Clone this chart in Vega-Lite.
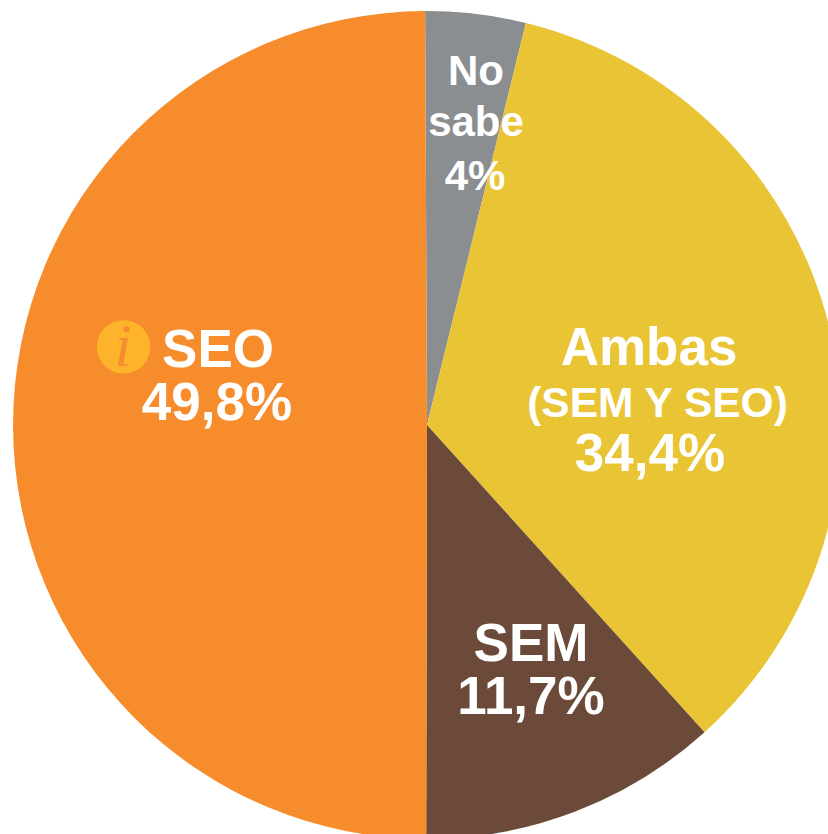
{
  "$schema": "https://vega.github.io/schema/vega-lite/v6.json",
  "width": 854,
  "height": 850,
  "padding": 0,
  "autosize": {"type": "none"},
  "background": "white",
  "view": {"stroke": null},
  "config": {"text": {"font": "Liberation Sans", "fontWeight": "bold", "color": "white", "fontSize": 53, "align": "center", "baseline": "alphabetic"}},
  "data": {"values": [
    {"orden": 1, "nombre": "No sabe", "valor": 3.9, "etiqueta": "4%", "detalle": ""},
    {"orden": 2, "nombre": "Ambas", "valor": 34.4, "etiqueta": "34,4%", "detalle": "(SEM Y SEO)"},
    {"orden": 3, "nombre": "SEM", "valor": 11.7, "etiqueta": "11,7%", "detalle": ""},
    {"orden": 4, "nombre": "SEO", "valor": 49.8, "etiqueta": "49,8%", "detalle": ""}
  ]},
  "layer": [
    {
      "mark": {"type": "arc", "outerRadius": 414, "innerRadius": 0},
      "encoding": {
        "theta": {"field": "valor", "type": "quantitative", "stack": true, "scale": {"range": [-0.0044, 6.2788]}},
        "order": {"field": "orden", "type": "ordinal"},
        "color": {"field": "nombre", "type": "nominal", "legend": null,
          "scale": {"domain": ["No sabe", "Ambas", "SEM", "SEO"], "range": ["#8B8E90", "#E9C535", "#6C4A3A", "#F78C2D"]}}
      }
    },
    {
      "transform": [{"filter": "datum.nombre === 'SEO'"}],
      "layer": [
        {"mark": {"type": "text", "text": "●", "font": "DejaVu Sans", "fontWeight": "normal", "fontSize": 70, "color": "#FDB42A", "dx": -303.5, "dy": -60}, "encoding": {}},
        {"mark": {"type": "text", "text": "i", "font": "Liberation Serif", "fontStyle": "italic", "fontWeight": "normal", "fontSize": 62, "color": "#F78C2D", "dx": -304, "dy": -59}, "encoding": {}},
        {"mark": {"type": "text", "dx": -209, "dy": -58}, "encoding": {"text": {"field": "nombre"}}},
        {"mark": {"type": "text", "dx": -210, "dy": -5}, "encoding": {"text": {"field": "etiqueta"}}}
      ]
    },
    {
      "transform": [{"filter": "datum.nombre === 'Ambas'"}],
      "layer": [
        {"mark": {"type": "text", "dx": 222, "dy": -60}, "encoding": {"text": {"field": "nombre"}}},
        {"mark": {"type": "text", "fontSize": 42.5, "dx": 230.5, "dy": -8}, "encoding": {"text": {"field": "detalle"}}},
        {"mark": {"type": "text", "dx": 223, "dy": 46}, "encoding": {"text": {"field": "etiqueta"}}}
      ]
    },
    {
      "transform": [{"filter": "datum.nombre === 'SEM'"}],
      "layer": [
        {"mark": {"type": "text", "dx": 104, "dy": 236}, "encoding": {"text": {"field": "nombre"}}},
        {"mark": {"type": "text", "dx": 104, "dy": 289}, "encoding": {"text": {"field": "etiqueta"}}}
      ]
    },
    {
      "transform": [{"filter": "datum.nombre === 'No sabe'"}],
      "layer": [
        {"mark": {"type": "text", "fontSize": 42, "lineBreak": " ", "lineHeight": 51, "dx": 49, "dy": -340}, "encoding": {"text": {"field": "nombre"}}},
        {"mark": {"type": "text", "fontSize": 42, "dx": 48, "dy": -235}, "encoding": {"text": {"field": "etiqueta"}}}
      ]
    }
  ]
}
